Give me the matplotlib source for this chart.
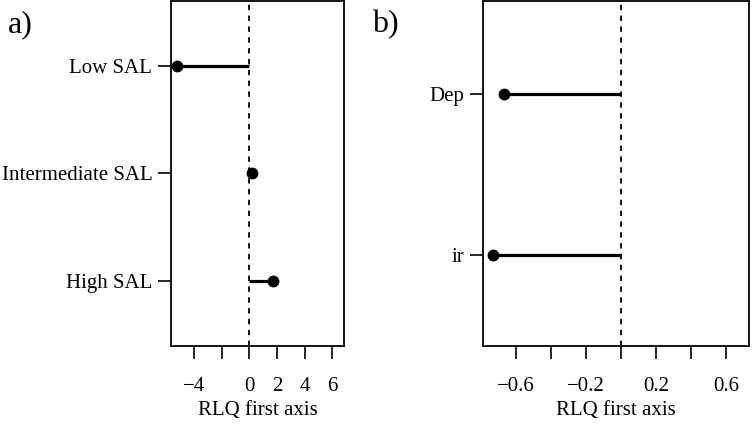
import matplotlib
matplotlib.use('Agg')
import matplotlib.pyplot as plt

plt.rcParams['font.family'] = ['Liberation Serif', 'DejaVu Serif']

# panel a: salinity classes
sal_labels = ['Low SAL', 'Intermediate SAL', 'High SAL']
sal_scores = [-5.2, 0.2, 1.75]
sal_ticks = [-4, -2, 0, 2, 4, 6]
sal_ticklabels = ['\u22124', '', '0', '2', '4', '6']

# panel b: environmental variables
env_labels = ['Dep', 'ir']
env_scores = [-0.67, -0.73]
env_ticks = [-0.6, -0.4, -0.2, 0.0, 0.2, 0.4, 0.6]
env_ticklabels = ['\u22120.6', '', '\u22120.2', '', '0.2', '', '0.6']

fig = plt.figure(figsize=(7.54, 4.25), dpi=100)
ax_a = fig.add_axes([0.2268, 0.1859, 0.2294, 0.8118])
ax_b = fig.add_axes([0.6402, 0.1859, 0.3532, 0.8118])


def lollipop(ax, labels, scores, ticks, ticklabels, xlim, ylim):
    y = list(range(len(labels), 0, -1))
    ax.hlines(y, 0, scores, color='black', lw=2.3)
    ax.plot(scores, y, 'o', color='black', ms=7.5)
    ax.axvline(0, color='black', lw=1.3, ls=(0, (3, 3)))
    ax.set_xlim(xlim)
    ax.set_ylim(ylim)
    ax.set_yticks(y)
    ax.set_yticklabels(labels, fontsize=15)
    ax.set_xticks(ticks)
    ax.set_xticklabels(ticklabels, fontsize=15)
    ax.tick_params(axis='y', length=9.5, width=1.2, pad=4)
    ax.tick_params(axis='x', length=9.5, width=1.2, pad=12.5)
    for s in ax.spines.values():
        s.set_linewidth(1.3)
    ax.set_xlabel('RLQ first axis', fontsize=15, labelpad=4)


lollipop(ax_a, sal_labels, sal_scores, sal_ticks, sal_ticklabels,
         (-5.66, 6.85), (0.4, 3.6))
lollipop(ax_b, env_labels, env_scores, env_ticks, env_ticklabels,
         (-0.791, 0.732), (0.435, 2.58))

fig.text(0.011, 0.925, 'a)', fontsize=23)
fig.text(0.494, 0.925, 'b)', fontsize=23)

fig.savefig('out.png', dpi=100)
